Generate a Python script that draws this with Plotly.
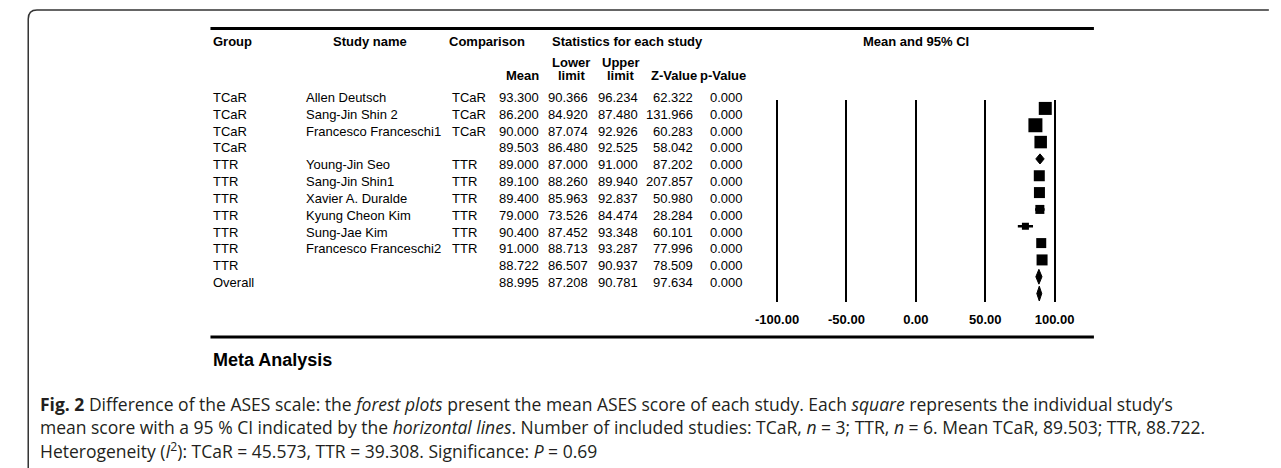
import plotly.graph_objects as go

# ---------------- data ----------------
groups = ["TCaR", "TCaR", "TCaR", "TCaR", "TTR", "TTR", "TTR", "TTR", "TTR", "TTR", "TTR", "Overall"]
studies = ["Allen Deutsch", "Sang-Jin Shin 2", "Francesco Franceschi1", "", "Young-Jin Seo",
           "Sang-Jin Shin1", "Xavier A. Duralde", "Kyung Cheon Kim", "Sung-Jae Kim",
           "Francesco Franceschi2", "", ""]
comparison = ["TCaR", "TCaR", "TCaR", "", "TTR", "TTR", "TTR", "TTR", "TTR", "TTR", "", ""]
mean = [93.300, 86.200, 90.000, 89.503, 89.000, 89.100, 89.400, 79.000, 90.400, 91.000, 88.722, 88.995]
lower = [90.366, 84.920, 87.074, 86.480, 87.000, 88.260, 85.963, 73.526, 87.452, 88.713, 86.507, 87.208]
upper = [96.234, 87.480, 92.926, 92.525, 91.000, 89.940, 92.837, 84.474, 93.348, 93.287, 90.937, 90.781]
z_value = [62.322, 131.966, 60.283, 58.042, 87.202, 207.857, 50.980, 28.284, 60.101, 77.996, 78.509, 97.634]
p_value = [0.000] * 12
summary_rows = [3, 10, 11]

tick_vals = [-100, -50, 0, 50, 100]
tick_labels = ["-100.00", "-50.00", "0.00", "50.00", "100.00"]

caption_lines = [
    "<b>Fig. 2</b> Difference of the ASES scale: the <i>forest plots</i> present the mean ASES score of each study. Each <i>square</i> represents the individual study\u2019s",
    "mean score with a 95 % CI indicated by the <i>horizontal lines</i>. Number of included studies: TCaR, <i>n</i> = 3; TTR, <i>n</i> = 6. Mean TCaR, 89.503; TTR, 88.722.",
    "Heterogeneity (<i>I</i><sup>2</sup>): TCaR = 45.573, TTR = 39.308. Significance: <i>P</i> = 0.69",
]

# ---------------- styles ----------------
W, H = 1281, 468
FONT = "Liberation Sans, Arial, sans-serif"
CAP_FONT = "Open Sans, Noto Sans, sans-serif"
square_px = {0: 13, 1: 14, 2: 12.5, 4: 11, 5: 11, 6: 9, 7: 7, 8: 10, 9: 11}
diamond_half = {3: 0.30, 10: 0.44, 11: 0.44}


def fx(p):
    return p / W


def fy(p):
    return 1 - p / H


n = len(mean)
rows = list(range(n))
study_rows = [k for k in rows if k not in summary_rows]

fig = go.Figure()

# CI lines
lx, ly = [], []
for k in study_rows:
    lx += [lower[k], upper[k], None]
    ly += [k, k, None]
fig.add_trace(go.Scatter(x=lx, y=ly, mode="lines", line=dict(color="black", width=2.5),
                         hoverinfo="skip", cliponaxis=False))

# squares
fig.add_trace(go.Scatter(x=[mean[k] for k in study_rows], y=study_rows, mode="markers",
                         marker=dict(symbol="square", color="black", opacity=1,
                                     size=[square_px[k] for k in study_rows], line=dict(width=0)),
                         cliponaxis=False))

# diamonds
for k in summary_rows:
    h = diamond_half[k]
    fig.add_trace(go.Scatter(x=[lower[k], mean[k], upper[k], mean[k], lower[k]],
                             y=[k, k - h, k, k + h, k], mode="lines", fill="toself",
                             fillcolor="black", line=dict(color="black", width=1),
                             cliponaxis=False))

# table text
ann = []
tf = dict(family=FONT, size=13, color="black")
hf = dict(family=FONT, size=13, color="black", weight="bold")


def row_text(txt, x, k, anchor):
    ann.append(dict(text=txt, x=fx(x), y=k, xref="paper", yref="y", xanchor=anchor,
                    yanchor="middle", showarrow=False, font=tf, yshift=11))


for k in rows:
    row_text(groups[k], 198, k, "left")
    if studies[k]:
        row_text(studies[k], 293, k, "left")
    if comparison[k]:
        row_text(comparison[k], 443, k, "left")
    row_text(f"{mean[k]:.3f}", 537, k, "right")
    row_text(f"{lower[k]:.3f}", 587.5, k, "right")
    row_text(f"{upper[k]:.3f}", 638.5, k, "right")
    row_text(f"{z_value[k]:.3f}", 695.5, k, "right")
    row_text(f"{p_value[k]:.3f}", 747.5, k, "right")


def head(txt, x, y, anchor="center", font=hf):
    ann.append(dict(text=txt, x=fx(x), y=fy(y), xref="paper", yref="paper", xanchor=anchor,
                    yanchor="middle", showarrow=False, font=font))


head("Group", 198, 41.5, "left")
head("Study name", 361, 41.5)
head("Comparison", 481.5, 41.5)
head("Statistics for each study", 626.5, 41.5)
head("Mean and 95% CI", 922.5, 41.5)
head("Lower", 568, 62.5)
head("limit", 568, 76)
head("Upper", 619, 62.5)
head("limit", 619, 76)
head("Mean", 537, 76, "right")
head("Z-Value", 673.5, 76)
head("p-Value", 724, 76)

head("Meta Analysis", 198, 360, "left", dict(family=FONT, size=18, color="black", weight="bold"))

for i, line in enumerate(caption_lines):
    head(line, 20, 404 + 23 * i, "left", dict(family=CAP_FONT, size=17.5, color="#231f20"))

# shapes
shapes = []
for y in (28.5, 337):
    shapes.append(dict(type="line", xref="paper", yref="paper", x0=fx(197), x1=fx(1106),
                       y0=fy(y), y1=fy(y), line=dict(color="black", width=3)))
r = 9
x0, y0 = 9.5, 10
path = (f"M {fx(x0)},{fy(H + 5)} L {fx(x0)},{fy(y0 + r)} "
        f"Q {fx(x0)},{fy(y0)} {fx(x0 + r)},{fy(y0)} L {fx(W + 5)},{fy(y0)}")
shapes.append(dict(type="path", xref="paper", yref="paper", path=path,
                   line=dict(color="#333333", width=1.5)))

x_lo, x_hi = -102, 102
ppu = (1065.5 - 780) / 200.0
cx = 922.75
fig.update_layout(
    width=W, height=H, margin=dict(l=0, r=0, t=0, b=0),
    paper_bgcolor="white", plot_bgcolor="white", showlegend=False,
    annotations=ann, shapes=shapes,
    xaxis=dict(domain=[fx(cx + x_lo * ppu), fx(cx + x_hi * ppu)], range=[x_lo, x_hi],
               tickvals=tick_vals, ticktext=tick_labels, showgrid=True, gridcolor="black",
               gridwidth=2, zeroline=False, showline=False, ticks="outside", ticklen=5,
               tickcolor="rgba(0,0,0,0)", tickfont=dict(family=FONT, size=13, color="black", weight="bold")),
    yaxis=dict(domain=[fy(302), fy(100)], range=[11.5, -0.5], showgrid=False, zeroline=False,
               showticklabels=False, showline=False),
)

fig.write_html("out.html", config={"displayModeBar": False},
               post_script="document.body.style.margin='0';")
